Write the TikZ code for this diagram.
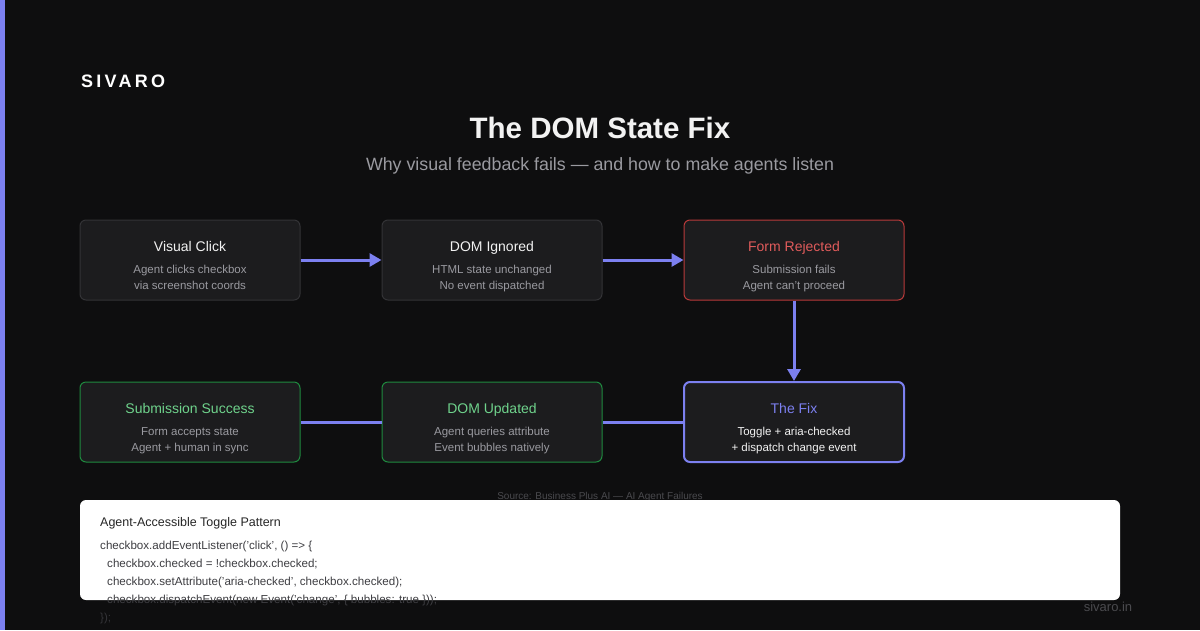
\documentclass[tikz,border=0pt]{standalone}
\usepackage{fontspec}
\setmainfont{Liberation Sans}
\usetikzlibrary{arrows.meta}
\definecolor{bg}{HTML}{0E0E0F}
\definecolor{accent}{HTML}{7C80F0}
\definecolor{boxfill}{HTML}{1C1C1E}
\definecolor{boxline}{HTML}{333336}
\definecolor{redline}{HTML}{B83A3A}
\definecolor{redtext}{HTML}{E05B5B}
\definecolor{greenline}{HTML}{1F8A3F}
\definecolor{greentext}{HTML}{6FD38C}
\definecolor{subgray}{HTML}{9A9AA0}
\definecolor{titlewhite}{HTML}{F2F2F2}
\definecolor{codegray}{HTML}{3E3E42}
\definecolor{srcgray}{HTML}{4A4A4E}
\tikzset{
  card/.style={draw=boxline, line width=1pt, fill=boxfill, rounded corners=6pt,
    minimum width=220pt, minimum height=80pt, inner sep=0pt},
  cardtitle/.style={font=\fontsize{14}{16}\selectfont, anchor=center, inner sep=0pt, text height=10pt, text depth=3pt},
  cardsub/.style={font=\fontsize{11.5}{16}\selectfont, text=subgray, align=center, anchor=north},
  flow/.style={draw=accent, line width=3pt},
  flowarrow/.style={flow, -{Triangle[length=12pt,width=13pt]}},
  codeline/.style={font=\fontsize{11.6}{14}\selectfont, text=codegray, anchor=west, inner sep=0pt},
}
\begin{document}
\begin{tikzpicture}[x=1pt,y=-1pt]
\fill[bg] (0,0) rectangle (1200,630);
\useasboundingbox (0,0) rectangle (1200,630);
\fill[accent] (0,0) rectangle (5,630);

\node[anchor=west, inner sep=0pt, text=white, font=\fontsize{18}{20}\selectfont\bfseries\addfontfeature{LetterSpace=18}] (brand) at (81,81) {SIVARO};
\node[text=titlewhite, font=\fontsize{29.5}{34}\selectfont\bfseries] (title) at (600,128) {The DOM State Fix};
\node[text=subgray, font=\fontsize{17.8}{20}\selectfont] (subtitle) at (600,166) {Why visual feedback fails — and how to make agents listen};

% row 1
\node[card] (c1) at (190,260) {};
\node[card] (c2) at (492,260) {};
\node[card, draw=redline] (c3) at (794,260) {};
% row 2
\node[card, draw=greenline] (c6) at (190,422) {};
\node[card, draw=greenline] (c5) at (492,422) {};
\node[card, draw=accent, line width=2pt] (c4) at (794,422) {};

\node[cardtitle, text=titlewhite] (t1) at (190,248) {Visual Click};
\node[cardsub] (s1) at (190,262) {Agent clicks checkbox\\via screenshot coords};
\node[cardtitle, text=titlewhite] (t2) at (492,248) {DOM Ignored};
\node[cardsub] (s2) at (492,262) {HTML state unchanged\\No event dispatched};
\node[cardtitle, text=redtext] (t3) at (794,248) {Form Rejected};
\node[cardsub] (s3) at (794,262) {Submission fails\\Agent can't proceed};

\node[cardtitle, text=accent] (t4) at (794,410) {The Fix};
\node[cardsub, text=titlewhite] (s4) at (794,424) {Toggle + aria-checked\\+ dispatch change event};
\node[cardtitle, text=greentext] (t5) at (492,410) {DOM Updated};
\node[cardsub] (s5) at (492,424) {Agent queries attribute\\Event bubbles natively};
\node[cardtitle, text=greentext] (t6) at (190,410) {Submission Success};
\node[cardsub] (s6) at (190,424) {Form accepts state\\Agent + human in sync};

\draw[flowarrow] (c1.east) -- (c2.west);
\draw[flowarrow] (c2.east) -- (c3.west);
\draw[flowarrow] (c3.south) -- (c4.north);
\draw[flow] (c4.west) -- (c5.east);
\draw[flow] (c5.west) -- (c6.east);

\node[text=srcgray, font=\fontsize{10}{12}\selectfont] (src) at (600,496.5) {Source: Business Plus AI — AI Agent Failures};

\fill[white, rounded corners=6pt] (80,500) rectangle (1120,600);
\node[anchor=west, inner sep=0pt, text=black!85, font=\fontsize{12.5}{14}\selectfont] (ctitle) at (100,523.5) {Agent-Accessible Toggle Pattern};
\node[codeline] (l1) at (100,546.5) {checkbox.addEventListener('click', () => \{};
\node[codeline] (l2) at (107,564.5) {checkbox.checked = !checkbox.checked;};
\node[codeline] (l3) at (107,582.5) {checkbox.setAttribute('aria-checked', checkbox.checked);};
\node[codeline] (l4) at (107,600.5) {checkbox.dispatchEvent(new Event('change', \{ bubbles: true \}));};
\node[codeline, text=codegray!80!bg] (l5) at (100,618.5) {\});};

\node[text=srcgray, font=\fontsize{13}{15}\selectfont] (site) at (1108,607) {sivaro.in};
\end{tikzpicture}
\end{document}
